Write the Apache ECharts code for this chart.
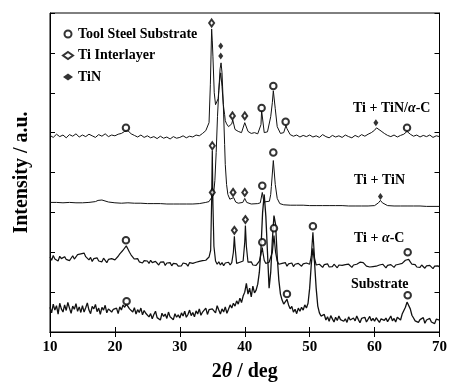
<!DOCTYPE html>
<html><head><meta charset="utf-8">
<script src="https://cdn.jsdelivr.net/npm/echarts@6/dist/echarts.min.js"></script>
<style>html,body{margin:0;padding:0;background:#fff}#c{width:450px;height:388px}</style>
</head><body><div id="c"></div>
<script>
// x ticks
const xTicks = [10, 20, 30, 40, 50, 60, 70];
// Substrate trace, 0.25 deg step from 10 to 70
const substrateGrid = [
62,48,70,55,66,45,72,58,50,68,54,74,60,47,65,57,71,52,63,49,
66,50,61,73,55,46,64,58,69,51,60,44,62,55,67,48,58,63,50,57,
52,60,46,63,55,68,62,70,64,58,55,50,61,45,56,49,60,43,54,47,
50,38,46,33,44,52,36,41,30,47,39,45,34,50,38,42,31,46,37,43,
35,48,40,52,37,44,55,41,49,38,53,45,58,42,50,47,60,44,56,52,
58,62,48,66,55,45,58,50,63,47,57,68,60,72,65,78,70,85,74,90,
100,122,95,110,88,115,98,105,120,150,210,300,345,290,200,110,150,230,292,270,
190,130,95,80,70,66,82,68,58,64,50,57,46,60,52,62,55,68,60,72,
110,170,210,175,110,65,48,40,35,44,30,38,27,41,33,25,37,29,40,31,
36,27,33,24,38,30,26,35,28,40,31,23,34,29,37,25,32,39,28,34,
27,36,30,24,33,38,29,35,26,31,40,28,34,25,37,42,30,45,50,62,
75,80,58,42,35,28,33,24,31,27,36,22,30,26,34,25,29,21,32,27,30];
const substrateExtra = [];
// Ti + alpha-C trace, 0.25 deg step
const tiCGrid = [
188,180,192,183,186,178,190,184,181,189,182,187,179,185,191,183,188,194,190,196,
192,198,189,185,181,187,177,184,180,186,178,183,176,185,180,174,182,178,184,179,
181,186,190,196,200,205,210,216,208,200,193,188,183,178,184,176,181,173,179,175,
178,172,180,174,170,177,173,168,175,171,176,167,173,169,174,166,172,168,171,165,
170,166,173,168,171,165,174,169,172,167,175,170,177,173,179,174,180,183,188,205,
455,215,178,170,176,168,174,166,173,169,175,168,174,200,215,172,168,175,170,178,
225,215,175,170,176,168,173,167,172,178,195,205,180,172,168,175,180,200,242,200,
178,170,166,172,168,174,165,171,167,173,164,170,166,172,168,165,171,167,173,176,
170,190,250,185,168,164,170,166,162,169,165,171,163,168,164,170,166,161,168,164,
167,163,169,165,170,166,162,168,164,170,172,175,171,174,169,165,168,163,167,164,
169,165,162,168,164,170,166,161,167,163,169,165,162,168,164,170,166,172,175,180,
185,182,176,170,166,169,163,167,162,168,164,160,166,162,167,163,159,165,161,166,163];
const tiCExtra = [[34.9,330],[35.1,320],[38.4,240],[40.1,267],[42.7,212]];
// Ti + TiN/alpha-C trace, 0.5 deg step
const tiTinCGrid = [
493,488,496,490,494,487,495,491,497,489,
494,490,496,492,488,495,491,497,490,494,
492,496,498,503,505,497,493,489,494,488,
492,487,490,485,491,486,489,484,490,486,
488,492,487,491,489,494,492,498,505,525,
730,570,605,615,530,515,522,508,503,500,
525,503,498,500,497,520,500,502,540,600,
515,498,500,510,495,491,494,489,493,490,
494,489,492,488,495,490,487,493,489,492,
488,494,490,487,493,489,495,491,496,500,
506,510,504,498,493,490,494,489,493,496,
503,496,491,494,489,493,490,494,488,492,490];
const tiTinCExtra = [[21.75,506],[34.7,620],[34.9,760],[35.1,690],[35.3,600],[35.7,565],[35.9,585],[36.1,625],[36.3,650],[36.7,570],[36.9,545],[37.2,522],[38.15,532],[40.05,530],[42.6,555],[44.25,575],[44.4,605],[44.7,560],[46.35,518],[60.3,512]];
// Ti + TiN trace, 1 deg step
const tiTinGrid = [
325,325,324,325,324,324,325,327,331,326,
324,323,324,323,323,322,322,322,321,321,
321,321,321,322,325,340,605,420,330,323,
335,321,322,323,345,335,319,318,318,318,
317,317,317,317,317,317,316,316,316,316,
317,329,317,316,316,316,316,316,315,315,315];
const tiTinExtra = [[17.4,330],[17.7,333],[34.5,327],[34.8,335],[35.2,345],[35.4,380],[35.6,450],[35.8,540],[36.2,660],[36.35,675],[36.5,650],[36.7,570],[36.9,470],[37.2,370],[37.4,345],[37.7,333],[38.3,337],[38.6,326],[39.7,325],[40.3,325],[42.4,324],[42.7,350],[42.95,326],[43.8,328],[44.1,365],[44.4,430],[44.7,370],[45.4,322],[60.6,324],[60.9,330],[61.2,324]];
// phase markers
const steelMarks = [[21.7,512],[42.6,562],[44.4,617],[46.3,527],[65.0,512],[42.7,367],[44.4,450],[21.7,230],[42.7,225],[44.5,260],[50.5,265],[65.1,200],[21.8,77],[46.5,95],[65.1,92]];
const tiMarks = [[34.9,775],[38.1,542],[40.0,542],[35.0,350],[38.2,350],[40.0,350],[35.0,467],[38.4,255],[40.1,282]];
const tinMarks = [[36.3,717],[36.3,692],[60.2,525],[60.9,340]];
const traceNames = ['Ti + TiN/{i|α}-C', 'Ti + TiN', 'Ti + {i|α}-C', 'Substrate'];
const legendNames = ['Tool Steel Substrate', 'Ti Interlayer', 'TiN'];

function build(grid, step, extra) {
  const pts = grid.map((v, i) => [+(10 + i * step).toFixed(3), v]);
  const xs = new Set(extra.map(p => p[0]));
  return pts.filter(p => !xs.has(p[0])).concat(extra).sort((a, b) => a[0] - b[0]);
}
const FF = '"Liberation Serif","Times New Roman",serif';
const chart = echarts.init(document.getElementById('c'));
const lineS = (name, data, w) => ({name, type:'line', data, showSymbol:false, symbol:'none',
  lineStyle:{color:'#111', width:w}, silent:true, z:2});
const rich = {i:{fontStyle:'italic', fontWeight:'bold', fontFamily:FF, fontSize:14, fill:'#000'}};
const labelPos = [[353,101],[354,173],[354,231],[351,277]];
chart.setOption({
  animation:false,
  grid:{left:50, right:7, top:13, bottom:56, show:true, borderColor:'#000', borderWidth:1},
  xAxis:[{type:'value', min:xTicks[0], max:xTicks[xTicks.length-1], interval:10,
    axisLine:{lineStyle:{color:'#000'}}, axisTick:{inside:true, length:5, lineStyle:{color:'#000'}},
    axisLabel:{color:'#000', fontFamily:FF, fontWeight:'bold', fontSize:15, margin:8},
    splitLine:{show:false},
    name:'2{i|θ} / deg', nameLocation:'middle', nameGap:30,
    nameTextStyle:{color:'#000', fontFamily:FF, fontWeight:'bold', fontSize:20,
      rich:{i:{fontStyle:'italic', fontWeight:'bold', fontFamily:FF, fontSize:20, color:'#000'}}}},
   {type:'value', position:'top', min:10, max:70, interval:10,
    axisLine:{lineStyle:{color:'#000'}}, axisTick:{inside:true, length:5, lineStyle:{color:'#000'}},
    axisLabel:{show:false}, splitLine:{show:false}}],
  yAxis:[{type:'value', min:0, max:800, interval:100,
    axisLine:{show:true, lineStyle:{color:'#000'}}, axisTick:{show:true, inside:true, length:5, lineStyle:{color:'#000'}},
    axisLabel:{show:false}, splitLine:{show:false},
    name:'Intensity / a.u.', nameLocation:'middle', nameGap:18, nameRotate:90,
    nameTextStyle:{color:'#000', fontFamily:FF, fontWeight:'bold', fontSize:20}},
   {type:'value', position:'right', min:0, max:800, interval:100,
    axisLine:{show:true, lineStyle:{color:'#000'}}, axisTick:{show:true, inside:true, length:5, lineStyle:{color:'#000'}},
    axisLabel:{show:false}, splitLine:{show:false}}],
  legend:{orient:'vertical', left:62, top:27, padding:0, itemWidth:10, itemHeight:7, itemGap:7.5,
    data:legendNames, textStyle:{color:'#000', fontFamily:FF, fontWeight:'bold', fontSize:14}},
  series:[
    lineS('t1', build(tiTinCGrid, 0.5, tiTinCExtra), 1),
    lineS('t2', build(tiTinGrid, 1, tiTinExtra), 1),
    lineS('t3', build(tiCGrid, 0.25, tiCExtra), 1.2),
    lineS('t4', build(substrateGrid, 0.25, substrateExtra), 1.3),
    {name:legendNames[0], type:'scatter', data:steelMarks, symbol:'emptyCircle', symbolSize:6.5,
      itemStyle:{color:'#000', borderColor:'#000', borderWidth:0.8}, z:5},
    {name:legendNames[1], type:'scatter', data:tiMarks, symbol:'emptyDiamond', symbolSize:[5,7],
      itemStyle:{color:'#000', borderColor:'#000', borderWidth:0.6}, z:5},
    {name:legendNames[2], type:'scatter', data:tinMarks, symbol:'diamond', symbolSize:[5,7],
      itemStyle:{color:'#000'}, z:5}
  ],
  graphic: traceNames.map((t, k) => ({type:'text', left:labelPos[k][0], top:labelPos[k][1], z:10,
    style:{text:t, fill:'#000', font:'bold 14px ' + FF, rich}}))
});
</script></body></html>
